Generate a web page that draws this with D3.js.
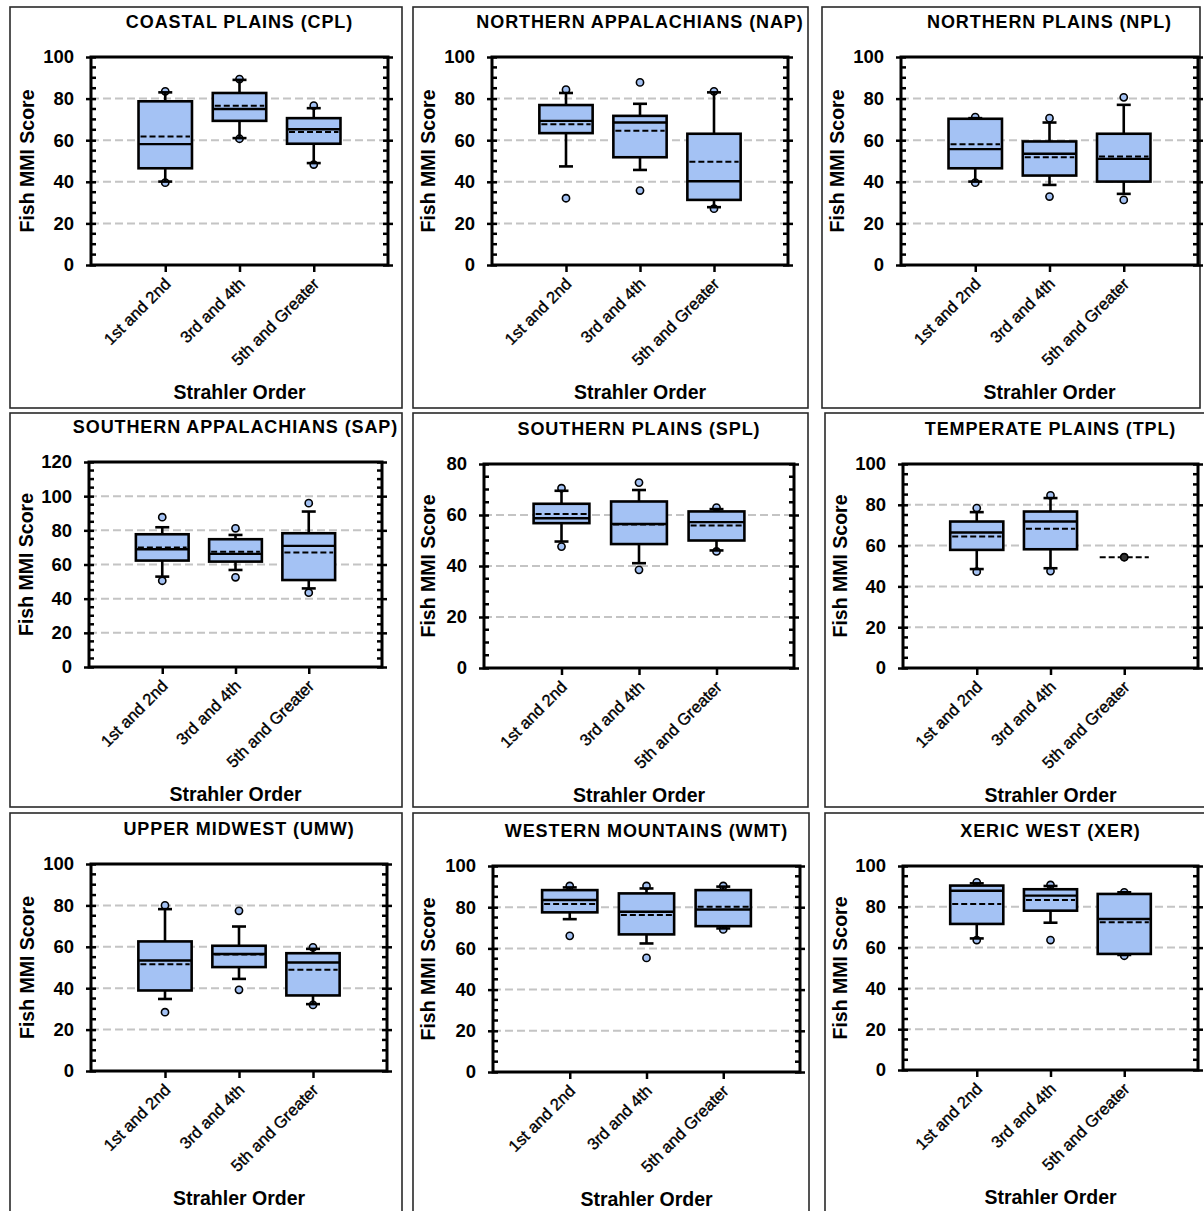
<!DOCTYPE html>
<html><head><meta charset="utf-8">
<script src="https://cdn.jsdelivr.net/npm/d3@7"></script>
<style>
body{margin:0;background:#fff;}
svg{display:block;font-family:"Liberation Sans",Arial,Helvetica,sans-serif;}
</style>
</head><body>
<svg id="chart" width="1204" height="1211"></svg>
<script>
// ---------- DATA ----------
const categories = ["1st and 2nd", "3rd and 4th", "5th and Greater"];
const panelTitles = [
  "COASTAL PLAINS (CPL)", "NORTHERN APPALACHIANS (NAP)", "NORTHERN PLAINS (NPL)",
  "SOUTHERN APPALACHIANS (SAP)", "SOUTHERN PLAINS (SPL)", "TEMPERATE PLAINS (TPL)",
  "UPPER MIDWEST (UMW)", "WESTERN MOUNTAINS (WMT)", "XERIC WEST (XER)"
];
const yMaxes = [100, 100, 100, 120, 80, 100, 100, 100, 100];
const yAxisLabel = "Fish MMI Score";
const xAxisLabel = "Strahler Order";

const whiskerLow = [
  [40.1, 61.0, 49.0], [47.4, 45.7, 27.8], [40.1, 38.5, 34.2],
  [52.9, 56.8, 46.0], [49.6, 41.1, 46.1], [48.5, 48.9, null],
  [34.8, 44.5, 32.3], [74.2, 62.4, 69.7], [64.5, 72.2, 56.4]
];
const q1 = [
  [46.5, 69.3, 58.3], [63.4, 51.8, 31.3], [46.5, 43.0, 40.1],
  [62.3, 61.7, 50.9], [56.8, 48.6, 50.0], [57.9, 58.2, null],
  [38.9, 50.2, 36.5], [77.5, 66.8, 70.8], [71.6, 78.1, 56.9]
];
const median = [
  [58.1, 75.0, 65.3], [69.3, 68.5, 40.3], [55.7, 53.5, 51.0],
  [68.9, 66.2, 70.9], [58.7, 56.5, 57.2], [66.4, 71.8, null],
  [53.4, 56.5, 52.4], [83.5, 77.8, 78.9], [87.9, 85.5, 74.0]
];
const q3 = [
  [78.7, 82.7, 70.6], [76.9, 71.7, 63.1], [70.3, 59.4, 63.1],
  [77.7, 74.8, 78.3], [64.4, 65.3, 61.4], [71.8, 76.7, null],
  [62.6, 60.5, 56.9], [88.3, 86.7, 88.3], [90.4, 88.6, 86.3]
];
const whiskerHigh = [
  [83.0, 89.0, 75.4], [82.7, 77.5, 83.0], [70.6, 68.5, 77.0],
  [81.8, 77.3, 91.0], [69.5, 69.8, 62.3], [76.4, 83.3, null],
  [78.2, 69.8, 59.0], [89.6, 89.1, 90.0], [91.5, 90.2, 87.1]
];
const mean = [
  [61.8, 76.6, 63.9], [67.7, 64.5, 49.6], [58.1, 51.8, 52.2],
  [69.9, 67.5, 67.0], [60.4, 56.3, 55.9], [64.4, 68.2, 54.3],
  [51.6, 56.3, 48.9], [81.5, 76.2, 80.2], [81.4, 83.3, 72.4]
];
const outliers = [
  [[83.5, 39.6], [89.4, 60.7], [76.6, 48.3]],
  [[84.3, 32.1], [87.8, 35.8], [83.5, 27.1]],
  [[71.1, 39.6], [70.6, 32.9], [80.6, 31.3]],
  [[87.7, 50.5], [81.2, 52.5], [95.9, 43.5]],
  [[70.5, 47.6], [72.7, 38.5], [62.9, 45.7]],
  [[78.4, 47.2], [84.6, 47.5], [54.3]],
  [[80.0, 28.4], [77.4, 39.2], [59.7, 31.9]],
  [[90.3, 66.1], [90.3, 55.4], [90.3, 69.2]],
  [[92.0, 63.7], [90.7, 63.7], [87.1, 56.0]]
];

// ---------- LAYOUT ----------
const frames = [
  [10, 7, 392, 401], [413, 7, 395, 401], [822, 7, 378, 401],
  [10, 413, 392, 394], [413, 413, 395, 394], [825, 413, 390, 394],
  [10, 813, 392, 410], [413, 813, 396, 410], [825, 813, 390, 410]
];
const plots = [ // left, top, right, bottom
  [91, 57, 388, 265], [492, 57, 788, 265], [901, 57, 1198, 265],
  [89, 462, 382, 667], [484, 464, 794, 668], [903, 464, 1198, 668],
  [91, 864, 387, 1071], [493, 866, 800, 1072], [903, 866, 1198, 1070]
];
const yLabelOffsets = [57, 57, 57, 56, 49, 56, 57, 58, 56];

const BOX_FILL = "#a4c2f4";
const svg = d3.select("#chart");

panelTitles.forEach((title, p) => {
  const [fx, fy, fw, fh] = frames[p];
  const [L, T, R, B] = plots[p];
  const yMax = yMaxes[p];

  svg.append("rect").attr("x", fx).attr("y", fy).attr("width", fw).attr("height", fh)
    .attr("fill", "none").attr("stroke", "#2a2a2a").attr("stroke-width", 1.6);

  const g = svg.append("g");
  const y = d3.scaleLinear().domain([0, yMax]).range([B, T]);
  const x = d3.scalePoint().domain(categories).range([L, R]).padding(1);
  const step = x.step();
  const boxW = step * 0.72;
  const capW = 14;

  // grid
  g.append("g").selectAll("line").data(d3.range(20, yMax, 20)).join("line")
    .attr("x1", L).attr("x2", R).attr("y1", d => y(d)).attr("y2", d => y(d))
    .attr("stroke", "#c4c4c4").attr("stroke-width", 2).attr("stroke-dasharray", "8,4");

  // left axis
  const majors = d3.range(0, yMax + 1, 20);
  const minors = d3.range(0, yMax + 1, 5).filter(v => v % 20 !== 0);
  const gl = g.append("g").attr("transform", `translate(${L},0)`)
    .call(d3.axisLeft(y).tickValues(majors).tickSizeInner(5).tickSizeOuter(0).tickPadding(12));
  gl.select(".domain").remove();
  gl.selectAll(".tick line").attr("x1", 5).attr("x2", -5).attr("stroke", "#000").attr("stroke-width", 2.5);
  gl.selectAll(".tick text").attr("font-size", 18.5).attr("font-weight", "bold")
    .attr("fill", "#000").attr("font-family", "'Liberation Sans', Arial, sans-serif");
  g.append("g").selectAll("line").data(minors).join("line")
    .attr("x1", L).attr("x2", L + 5).attr("y1", d => y(d)).attr("y2", d => y(d))
    .attr("stroke", "#000").attr("stroke-width", 2.5);

  // right axis
  const gr = g.append("g").attr("transform", `translate(${R},0)`)
    .call(d3.axisRight(y).tickValues(majors).tickSizeInner(5).tickSizeOuter(0).tickFormat(""));
  gr.select(".domain").remove();
  gr.selectAll(".tick line").attr("x1", -5).attr("x2", 5).attr("stroke", "#000").attr("stroke-width", 2.5);
  g.append("g").selectAll("line").data(minors).join("line")
    .attr("x1", R).attr("x2", R - 5).attr("y1", d => y(d)).attr("y2", d => y(d))
    .attr("stroke", "#000").attr("stroke-width", 2.5);

  // frame lines of plot
  g.append("rect").attr("x", L).attr("y", T).attr("width", R - L).attr("height", B - T)
    .attr("fill", "none").attr("stroke", "#000").attr("stroke-width", 3);

  // bottom axis
  const gb = g.append("g").attr("transform", `translate(0,${B})`)
    .call(d3.axisBottom(x).tickSizeInner(7).tickSizeOuter(0));
  gb.select(".domain").remove();
  gb.selectAll(".tick line").attr("stroke", "#000").attr("stroke-width", 2.5);
  gb.selectAll(".tick text")
    .attr("x", 0).attr("y", 0).attr("dy", 0)
    .attr("text-anchor", "end")
    .attr("transform", "translate(6,20) rotate(-45)")
    .attr("font-size", 16.5).attr("fill", "#000")
    .attr("stroke", "#000").attr("stroke-width", 0.35)
    .attr("font-family", "'Liberation Sans', Arial, sans-serif");

  // boxes
  categories.forEach((c, i) => {
    const cx = x(c);
    const pts = outliers[p][i];
    g.append("g").selectAll("circle").data(pts).join("circle")
      .attr("cx", cx).attr("cy", d => y(d)).attr("r", 3.6)
      .attr("fill", BOX_FILL).attr("stroke", "#000").attr("stroke-width", 1.6);

    if (q1[p][i] != null) {
      g.append("line").attr("x1", cx).attr("x2", cx)
        .attr("y1", y(q3[p][i])).attr("y2", y(whiskerHigh[p][i]))
        .attr("stroke", "#000").attr("stroke-width", 2.6);
      g.append("line").attr("x1", cx).attr("x2", cx)
        .attr("y1", y(q1[p][i])).attr("y2", y(whiskerLow[p][i]))
        .attr("stroke", "#000").attr("stroke-width", 2.6);
      [whiskerHigh[p][i], whiskerLow[p][i]].forEach(v => {
        g.append("line").attr("x1", cx - capW / 2).attr("x2", cx + capW / 2)
          .attr("y1", y(v)).attr("y2", y(v)).attr("stroke", "#000").attr("stroke-width", 2.6);
      });
      g.append("rect").attr("x", cx - boxW / 2).attr("width", boxW)
        .attr("y", y(q3[p][i])).attr("height", y(q1[p][i]) - y(q3[p][i]))
        .attr("fill", BOX_FILL).attr("stroke", "#000").attr("stroke-width", 2.6);
      g.append("line").attr("x1", cx - boxW / 2).attr("x2", cx + boxW / 2)
        .attr("y1", y(median[p][i])).attr("y2", y(median[p][i]))
        .attr("stroke", "#000").attr("stroke-width", 2.4);
    }
    g.append("line").attr("x1", cx - boxW / 2 + 2).attr("x2", cx + boxW / 2 - 2)
      .attr("y1", y(mean[p][i])).attr("y2", y(mean[p][i]))
      .attr("stroke", "#000").attr("stroke-width", 2).attr("stroke-dasharray", "6,3");
    if (q1[p][i] == null) {
      g.append("g").selectAll("circle").data(pts).join("circle")
        .attr("cx", cx).attr("cy", d => y(d)).attr("r", 3.4)
        .attr("fill", "#333").attr("stroke", "#000").attr("stroke-width", 1.2);
    }
  });

  // titles
  g.append("text").attr("x", (L + R) / 2).attr("y", T - 29.5)
    .attr("text-anchor", "middle").attr("font-size", 18).attr("font-weight", "bold")
    .attr("letter-spacing", "0.9px").attr("fill", "#000").text(title);
  g.append("text").attr("transform", `translate(${L - yLabelOffsets[p]},${(T + B) / 2}) rotate(-90)`)
    .attr("text-anchor", "middle").attr("font-size", 19.5).attr("font-weight", "bold")
    .attr("fill", "#000").text(yAxisLabel);
  g.append("text").attr("x", (L + R) / 2).attr("y", B + 134)
    .attr("text-anchor", "middle").attr("font-size", 19.5).attr("font-weight", "bold")
    .attr("fill", "#000").text(xAxisLabel);
});
</script>
</body></html>
